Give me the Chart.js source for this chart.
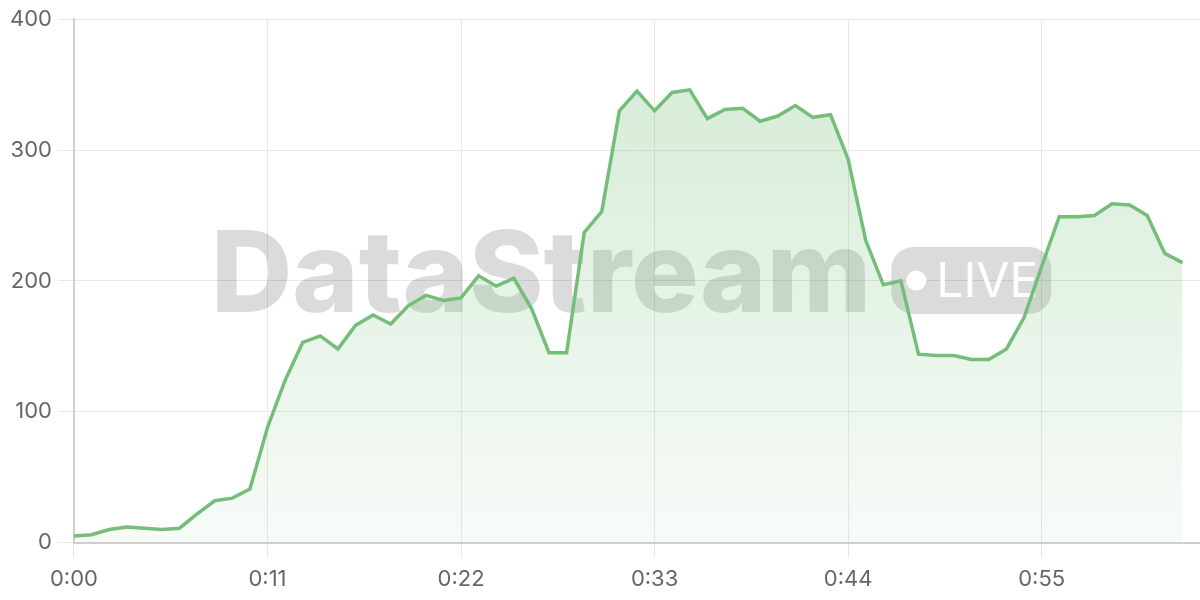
<!DOCTYPE html>
<html>
<head>
<meta charset="utf-8">
<script src="https://cdn.jsdelivr.net/npm/chart.js"></script>
<style>
    html, body { margin: 0; padding: 0; background: #ffffff; }
    #wrap { width: 1200px; height: 600px; position: relative; }
</style>
</head>
<body>
<div id="wrap"><canvas id="streamChart"></canvas></div>
<script>
// one reading per second, 0:00 .. 1:03
const viewers = [
    5, 6, 10, 12, 11, 10, 11, 22, 32, 34,
    41, 88, 124, 153, 158, 148, 166, 174, 167, 181,
    189, 185, 187, 204, 196, 202, 179, 145, 145, 237,
    253, 330, 345, 330, 344, 346, 324, 331, 332, 322,
    326, 334, 325, 327, 293, 231, 197, 200, 144, 143,
    143, 140, 140, 148, 172, 211, 249, 249, 250, 259,
    258, 250, 221, 214
];
const xTicks = [0, 11, 22, 33, 44, 55];
const yTicks = [0, 100, 200, 300, 400];

const lineColor = 'rgb(116, 190, 121)';
const tickFont = { family: 'Inter', size: 22 };

function formatTime(sec) {
    const m = Math.floor(sec / 60);
    const s = sec % 60;
    return m + ':' + String(s).padStart(2, '0');
}

// big faded "DataStream LIVE" mark behind the line
const watermark = {
    id: 'watermark',
    beforeDatasetsDraw(chart) {
        const { ctx } = chart;
        ctx.save();
        ctx.font = '800 113px Inter';
        ctx.textBaseline = 'alphabetic';
        const word = 'DataStream';
        const wordW = ctx.measureText(word).width;
        const gap = 20;
        const pillW = 160, pillH = 67;
        const total = wordW + gap + pillW;
        const cx = 631;
        const baseY = 312;
        const startX = cx - total / 2;

        ctx.fillStyle = 'rgba(0, 0, 0, 0.14)';
        ctx.fillText(word, startX, baseY);

        const px = startX + wordW + gap;
        const py = 247;
        ctx.beginPath();
        ctx.roundRect(px, py, pillW, pillH, 22);
        ctx.fill();

        ctx.fillStyle = '#ffffff';
        ctx.beginPath();
        ctx.arc(px + 25, py + pillH / 2, 10, 0, Math.PI * 2);
        ctx.fill();
        ctx.font = '48px Inter';
        ctx.textBaseline = 'middle';
        ctx.fillText('LIVE', px + 45, py + pillH / 2 + 2);
        ctx.restore();
    }
};

document.addEventListener('DOMContentLoaded', function () {
    const ctx = document.getElementById('streamChart').getContext('2d');

    new Chart(ctx, {
        type: 'line',
        data: {
            datasets: [{
                label: 'Viewers',
                data: viewers.map((v, i) => ({ x: i, y: v })),
                borderColor: lineColor,
                borderWidth: 3.5,
                pointRadius: 0,
                tension: 0,
                fill: 'origin',
                backgroundColor: function (context) {
                    const area = context.chart.chartArea;
                    if (!area) return 'rgba(116, 190, 121, 0.2)';
                    const g = context.chart.ctx.createLinearGradient(0, area.top, 0, area.bottom);
                    g.addColorStop(0, 'rgba(116, 190, 121, 0.32)');
                    g.addColorStop(1, 'rgba(116, 190, 121, 0.06)');
                    return g;
                }
            }]
        },
        options: {
            responsive: true,
            maintainAspectRatio: false,
            animation: false,
            layout: { padding: { top: 8, right: 0, bottom: -2, left: 4 } },
            scales: {
                x: {
                    type: 'linear',
                    min: 0,
                    max: 64,
                    grid: { color: '#e8e8e8', tickLength: 15 },
                    border: { color: '#cfcfcf', width: 2 },
                    afterBuildTicks(axis) {
                        axis.ticks = xTicks.map(v => ({ value: v }));
                    },
                    ticks: {
                        color: '#666666',
                        font: tickFont,
                        padding: 9,
                        maxRotation: 0,
                        callback: (v) => formatTime(v)
                    }
                },
                y: {
                    min: 0,
                    max: 400,
                    grid: { color: '#e8e8e8', tickLength: 16 },
                    border: { color: '#cfcfcf', width: 2 },
                    afterBuildTicks(axis) {
                        axis.ticks = yTicks.map(v => ({ value: v }));
                    },
                    ticks: {
                        color: '#666666',
                        font: tickFont,
                        padding: 6
                    }
                }
            },
            plugins: {
                legend: { display: false },
                tooltip: { enabled: false },
                title: { display: false }
            }
        },
        plugins: [watermark]
    });
});
</script>
</body>
</html>
